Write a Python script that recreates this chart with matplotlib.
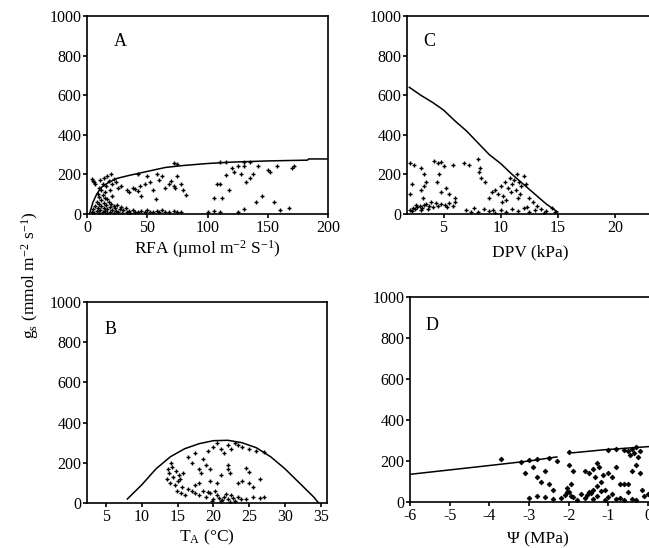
import matplotlib
matplotlib.use("Agg")
import matplotlib.pyplot as plt
import numpy as np

plt.rcParams['font.family'] = ['Liberation Serif', 'DejaVu Serif']
plt.rcParams['mathtext.fontset'] = 'custom'
plt.rcParams['mathtext.rm'] = 'Liberation Serif'
plt.rcParams['mathtext.it'] = 'Liberation Serif:italic'

# ---------------- Panel A: RFA ----------------
a_curve_x = [2, 5, 8, 12, 18, 25, 35, 50, 65, 80, 100, 120, 150, 183, 184, 200]
a_curve_y = [0, 60, 100, 135, 160, 180, 195, 215, 235, 245, 255, 262, 268, 272, 278, 278]
a_pts = [(4,10),(5,25),(6,5),(7,40),(8,15),(8,60),(9,30),(10,5),(10,50),(11,20),(12,40),(12,70),
         (13,10),(14,30),(14,55),(15,15),(15,80),(16,45),(17,5),(17,25),(18,60),(19,35),(19,10),
         (20,50),(21,20),(22,5),(22,40),(23,30),(24,15),(25,45),(26,10),(27,25),(28,35),(29,5),
         (30,20),(32,30),(33,10),(35,15),(36,5),(38,20),(40,12),(42,8),(45,15),(48,10),(50,18),
         (52,8),(55,12),(58,15),(60,8),(62,20),(65,12),(68,10),(72,15),(75,8),(78,10),
         (5,165),(7,150),(9,100),(10,130),(11,170),(12,120),(13,150),(14,180),(15,110),(16,140),
         (17,190),(18,165),(19,120),(20,200),(21,150),(22,175),(24,160),(26,130),(28,140),
         (10,85),(13,95),(17,75),(21,90),(4,175),(6,160),
         (33,120),(35,110),(38,130),(40,125),(42,115),(44,140),(45,90),(48,150),(52,160),(55,120),
         (57,75),(60,170),(62,190),(65,130),(68,150),(70,165),(72,140),(73,130),(75,190),(78,150),
         (80,120),(82,95),(58,200),(50,190),(42,200),
         (72,260),(75,255),(110,262),(115,265),(130,262),(135,265),
         (105,80),(108,150),(110,150),(112,80),(115,195),(118,120),(120,230),(122,210),(125,240),
         (128,200),(130,240),(132,160),(135,180),(138,200),(140,60),(142,240),(145,90),(150,220),
         (152,210),(155,60),(158,240),(160,20),(168,30),(170,230),(172,240),(100,10),(105,15),
         (110,10),(125,10),(130,25)]
a_x = [p[0] for p in a_pts]
a_y = [p[1] for p in a_pts]

# ---------------- Panel C: DPV ----------------
c_curve_x = [2.0, 3, 4, 5, 6, 7, 8, 9, 10, 11, 12, 13, 14, 15]
c_curve_y = [640, 600, 565, 525, 470, 420, 360, 300, 255, 200, 150, 100, 50, 10]
c_pts = [(2.1,20),(2.3,30),(2.5,25),(2.7,35),(2.9,40),(3.1,30),(3.3,45),(3.5,50),(3.7,40),(3.9,60),
         (4.1,35),(4.3,55),(3.0,20),(2.6,45),(3.6,25),(4.5,40),(4.8,50),(5.1,45),(5.3,35),(5.5,55),
         (5.8,40),(6.0,60),(2.2,15),
         (2.1,260),(2.2,150),(2.1,100),(2.4,250),(3.0,230),(3.3,200),(3.3,140),(3.2,80),(3.5,160),
         (3.0,120),(4.2,270),(4.5,260),(4.8,265),(4.4,160),(4.6,200),(5.0,240),(5.2,130),(5.5,100),
         (5.8,250),(4.8,110),(6.0,80),
         (6.8,260),(7.2,250),(8.0,280),(8.2,230),(8.3,180),(8.1,210),(8.6,160),(7.7,30),(7.0,20),(7.4,10),
         (9.2,110),(9.5,120),(9.8,100),(10.0,140),(10.2,90),(10.4,160),(10.6,130),(10.8,180),(11.0,150),
         (11.2,170),(11.4,200),(11.6,160),(11.8,140),(12.0,190),(10.9,110),(11.3,120),(10.5,70),
         (11.5,80),(12.2,150),(11.7,100),(10.1,60),(12.5,80),(12.8,60),(13.2,40),(9.0,80),(9.3,20),
         (8.0,10),(8.5,25),(9.0,15),(9.5,5),(10.0,20),(10.5,10),(11.0,25),(11.5,15),(12.0,30),(12.5,10),
         (13.0,20),(13.5,25),(14.0,15),(14.5,30),(14.8,10),(13.8,5),(12.3,35)]
c_x = [p[0] for p in c_pts]
c_y = [p[1] for p in c_pts]

# ---------------- Panel B: TA ----------------
b_curve_x = [8, 10, 12, 14, 16, 18, 20, 22, 24, 26, 28, 30, 32, 34, 34.7]
b_curve_y = [20, 90, 170, 230, 270, 295, 310, 312, 300, 275, 230, 170, 100, 30, 0]
b_pts = [(13.5,120),(13.8,150),(14.0,100),(14.2,180),(14.4,130),(14.6,90),(14.8,160),(15.0,110),
         (15.2,140),(15.4,120),(15.6,80),(14.1,200),(13.7,170),(15.8,150),(14.9,60),(15.5,50),
         (16.0,40),(16.5,70),(17.0,60),(17.5,50),
         (18.0,40),(18.5,60),(19.0,30),(19.5,50),(20.0,20),(20.5,40),(21.0,10),(21.5,30),(22.0,20),
         (22.5,40),(23.0,10),(23.5,30),(19.8,10),(20.8,25),(21.8,45),(22.8,25),(19.2,55),(20.2,60),
         (21.2,15),(22.3,5),(23.8,20),(24.5,20),(25.5,30),(26.5,25),(27.0,30),
         (16.5,230),(17.0,200),(17.5,250),(18.0,170),(18.3,150),(18.6,220),(19.0,190),(19.3,260),
         (19.5,170),(20.0,280),(20.5,300),(21.0,270),(21.5,250),(22.0,290),(22.5,270),(23.0,300),
         (23.5,290),(24.0,280),(25.0,270),(26.0,260),(27.0,255),(22.0,190),(22.3,150),(23.5,100),
         (24.0,110),(25.0,100),(25.5,80),(26.5,120),(19.5,110),(20.5,100),(17.5,90),(18.0,100),
         (21.0,140),(22.0,170),(25.0,155),(24.5,175)]
b_x = [p[0] for p in b_pts]
b_y = [p[1] for p in b_pts]

# ---------------- Panel D: Psi ----------------
d_curve_x = [-6, -4, -3, -2.3]
d_curve_y = [135, 178, 200, 220]
d_curve2_x = [-1.9, -1.1, 0, 0.6]
d_curve2_y = [240, 255, 270, 275]
d_pts = [(-3.7,210),(-3.2,195),(-3.0,205),(-2.8,210),(-2.5,215),(-2.3,200),(-2.0,245),(-1.0,255),
         (-0.8,260),(-0.6,255),(-0.5,250),(-0.4,260),(-0.3,270),(-0.2,250),(-0.35,240),(-0.45,230),
         (-0.25,220),
         (-3.1,140),(-2.9,170),(-2.8,120),(-2.7,100),(-2.6,150),(-2.5,90),(-2.4,60),(-2.0,180),
         (-1.9,150),(-1.95,90),(-2.05,50),(-1.6,150),(-1.5,140),(-1.4,160),(-1.35,120),(-1.3,190),
         (-1.25,170),(-1.2,100),(-1.15,130),(-1.3,80),(-1.4,60),(-1.0,140),(-0.9,120),(-0.8,170),
         (-0.7,90),(-0.6,90),(-0.5,90),(-0.4,150),(-0.3,180),(-0.2,140),(-0.15,60),(-0.1,30),
         (0.0,40),(-0.5,50),(-1.1,60),
         (-3.0,20),(-2.8,30),(-2.6,25),(-2.4,15),(-2.2,20),(-2.1,35),(-2.0,50),(-1.9,25),(-1.8,10),
         (-1.7,40),(-1.6,20),(-1.5,50),(-1.4,15),(-1.3,30),(-1.2,55),(-1.1,10),(-1.0,25),(-0.9,40),
         (-0.8,15),(-0.7,20),(-0.6,10),(-0.4,15),(-0.3,10),(-2.05,70),(-1.95,30),(-1.55,35),(-1.45,45)]
d_x = [p[0] for p in d_pts]
d_y = [p[1] for p in d_pts]

y_ticks = [0, 200, 400, 600, 800, 1000]

W, H = 649, 548
fig = plt.figure(figsize=(W / 100, H / 100), dpi=100)


def make_ax(left, top, right, bottom):
    return fig.add_axes([left / W, 1 - bottom / H, (right - left) / W, (bottom - top) / H])


def style(ax, right_spine=True):
    for s in ax.spines.values():
        s.set_linewidth(1.2)
    ax.spines['right'].set_visible(right_spine)
    ax.tick_params(direction='out', length=3, width=1.2, labelsize=11.5, pad=1, top=False, right=False)
    ax.set_yticks(y_ticks)


axA = make_ax(87, 16, 328, 214)
axC = make_ax(407, 16, 672, 214)
axB = make_ax(87, 302, 327, 503)
axD = make_ax(410, 297, 672, 502)

mk = dict(marker='+', s=11, linewidths=1.0, color='black')

# A
axA.plot(a_curve_x, a_curve_y, color='black', lw=1.1)
axA.scatter(a_x, a_y, **mk)
axA.set_xlim(0, 200)
axA.set_ylim(0, 1000)
axA.set_xticks([0, 50, 100, 150, 200])
style(axA)
axA.set_xlabel('RFA (µmol m$^{-2}$ S$^{-1}$)', fontsize=12.5, labelpad=2)
axA.text(0.11, 0.85, 'A', transform=axA.transAxes, fontsize=13)

# C
axC.plot(c_curve_x, c_curve_y, color='black', lw=1.1)
axC.scatter(c_x, c_y, **mk)
axC.set_xlim(1.8, 25)
axC.set_ylim(0, 1000)
axC.set_xticks([5, 10, 15, 20])
style(axC, right_spine=False)
axC.set_xlabel('DPV (kPa)', fontsize=12.5)
axC.xaxis.set_label_coords((530 - 407) / (672 - 407), -0.155)
axC.text(0.06, 0.85, 'C', transform=axC.transAxes, fontsize=13)

# B
axB.plot(b_curve_x, b_curve_y, color='black', lw=1.1)
axB.scatter(b_x, b_y, **mk)
axB.set_xlim(2.37, 35.86)
axB.set_ylim(0, 1000)
axB.set_xticks([5, 10, 15, 20, 25, 30, 35])
style(axB)
axB.set_xlabel('T$_{\\mathrm{A}}$ (°C)', fontsize=12.5, labelpad=2)
axB.text(0.075, 0.84, 'B', transform=axB.transAxes, fontsize=13)

# D
axD.plot(d_curve_x, d_curve_y, color='black', lw=1.1)
axD.plot(d_curve2_x, d_curve2_y, color='black', lw=1.1)
axD.scatter(d_x, d_y, marker='D', s=6, color='black', linewidths=0.5)
axD.scatter(d_x, d_y, marker='+', s=12, color='black', linewidths=0.8)
axD.set_xlim(-6, 0.6)
axD.set_ylim(0, 1000)
axD.set_xticks([-6, -5, -4, -3, -2, -1, 0])
axD.set_xticklabels(['-6', '-5', '-4', '-3', '-2', '-1', '0'])
style(axD, right_spine=False)
axD.set_xlabel('Ψ (MPa)', fontsize=12.5)
axD.xaxis.set_label_coords((538 - 410) / (672 - 410), -0.145)
axD.text(0.06, 0.84, 'D', transform=axD.transAxes, fontsize=13)

fig.text(30 / W, 1 - 275 / H, 'g$_{\\mathrm{s}}$ (mmol m$^{-2}$ s$^{-1}$)', rotation=90,
         ha='center', va='center', fontsize=12.5)

fig.savefig('out.png', dpi=100)
